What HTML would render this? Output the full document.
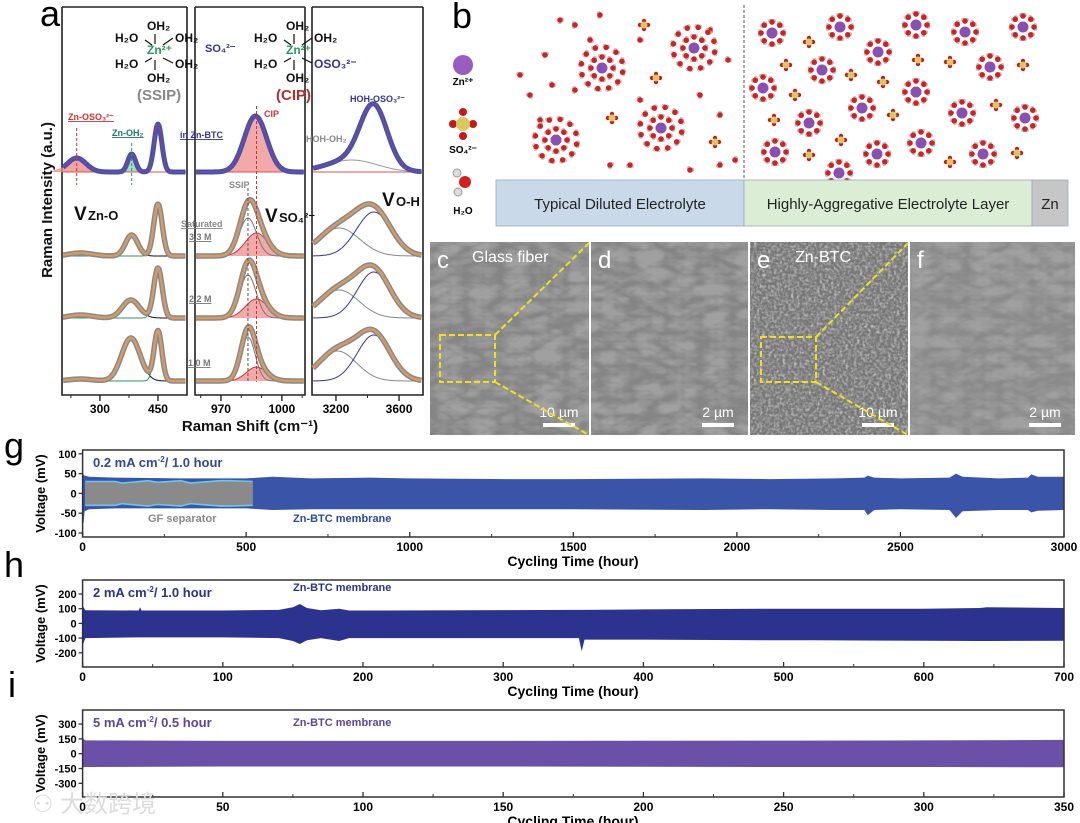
<!DOCTYPE html>
<html><head><meta charset="utf-8">
<style>
html,body{margin:0;padding:0;background:#fff;}
svg{display:block;font-family:"Liberation Sans","Noto Sans CJK SC",sans-serif;}
.b{font-weight:bold;}
</style></head>
<body>
<svg id="fig" width="1080" height="823" viewBox="0 0 1080 823" xmlns="http://www.w3.org/2000/svg">
<defs>
<filter id="semB" x="0" y="0" width="100%" height="100%"><feTurbulence type="turbulence" baseFrequency="0.03 0.06" numOctaves="3" seed="7"/><feColorMatrix type="matrix" values="0 0 0 0 0.35  0 0 0 0 0.35  0 0 0 0 0.35  1.2 1.2 1.2 0 -0.6"/></filter>
<filter id="semC" x="0" y="0" width="100%" height="100%"><feTurbulence type="fractalNoise" baseFrequency="0.35" numOctaves="2" seed="5"/><feColorMatrix type="matrix" values="0 0 0 0 0.8  0 0 0 0 0.8  0 0 0 0 0.8  0.8 0.8 0.8 0 -1.05"/></filter>
</defs>

<text x="40" y="26" font-size="36">a</text>
<text x="452" y="28" font-size="36">b</text>
<text x="4" y="458" font-size="36">g</text>
<text x="4" y="577" font-size="36">h</text>
<text x="8" y="697" font-size="36">i</text>

<g id="panelA"></g>
<g id="panelB"></g>
<g id="panelSEM"></g>
<g id="cycG"></g>
<g id="cycH"></g>
<g id="cycI"></g>

<text x="32" y="812" font-size="24" fill="#dcdcdc">⚇ 大数跨境</text>
</svg>
<script>
// ===== Raman data (peak: center cm-1, height, sigma) =====
const znoTop = [[240,14,24],[382,18,10],[450,48,10]];
const znoRows = [
  [[250,3,30],[382,21,16],[450,52,11]],
  [[250,3,30],[380,18,22],[450,50,11]],
  [[250,2,30],[380,43,24],[450,50,10]]
];
const so4Top = [[987,56,5.5]];
const so4Rows = [
  [[983.3,38,4.2],[987.5,23,5.5]],
  [[983.3,43,4.0],[987.5,19,5.5]],
  [[983.3,44,3.5],[987.5,14,5.0]]
];
const ohTop = [[3300,12,160],[3440,60,85]];
const ohRows = [
  [[3220,28,130],[3440,44,110]],
  [[3220,28,125],[3440,46,105]],
  [[3210,30,120],[3440,46,105]]
];
const rowBase = [256,318,381];
const ramanConc = ["3.3 M","2.2 M","1.0 M"];

// ===== Cycling data =====
const gTimes = [0,3,6,20,100,300,500,580,700,880,1000,1300,1500,1900,2100,2300,2390,2400,2420,2500,2650,2670,2690,2800,2890,2900,2920,3000];
const gUpper = [48,47,45,42,40,38,38,42,38,40,38,36,36,38,36,38,40,45,40,38,40,50,42,38,40,48,42,42];
const gLower = [-75,-75,-45,-40,-38,-38,-38,-42,-40,-40,-40,-40,-40,-42,-40,-42,-42,-55,-42,-40,-42,-62,-45,-42,-42,-48,-44,-42];
const gfTimes = [8,100,120,200,230,300,330,420,450,520];
const gfUpper = [28,28,24,30,26,30,24,30,30,28];
const gfLower = [-28,-28,-24,-30,-26,-30,-24,-30,-30,-28];
const gXTicks = [0,500,1000,1500,2000,2500,3000];
const gYTicks = [100,50,0,-50,-100];

const hTimes = [0,2,40,41,42,100,140,150,155,160,170,183,190,200,350,354,356,358,400,490,520,600,640,645,700];
const hUpper = [120,90,88,110,88,88,92,110,132,105,90,100,88,88,92,92,92,92,95,100,100,100,105,110,105];
const hLower = [-150,-100,-95,-95,-95,-95,-100,-120,-140,-115,-100,-120,-100,-100,-100,-100,-190,-110,-110,-115,-115,-118,-120,-120,-118];
const hXTicks = [0,100,200,300,400,500,600,700];
const hYTicks = [200,100,0,-100,-200];

const iTimes = [0,1,50,100,150,200,250,300,350];
const iUpper = [160,135,130,130,130,132,133,135,140];
const iLower = [-140,-135,-130,-130,-130,-132,-135,-135,-138];
const iXTicks = [0,50,100,150,200,250,300,350];
const iYTicks = [300,150,0,-150,-300];

const NS = "http://www.w3.org/2000/svg";
function mk(parent, tag, attrs, text){
  const e = document.createElementNS(NS, tag);
  for (const k in attrs) e.setAttribute(k, attrs[k]);
  if (text !== undefined) e.textContent = text;
  parent.appendChild(e);
  return e;
}
function gauss(x, p){ return p[1]*Math.exp(-0.5*Math.pow((x-p[0])/p[2],2)); }

// ===== Panel A =====
(function(){
  const g = document.getElementById('panelA');
  const subs = [
    {x0:62,x1:187,d0:202,d1:525,top:znoTop,rows:znoRows,ticks:[300,450],minor:[225,375,525]},
    {x0:195,x1:305,d0:957.2,d1:1011.4,top:so4Top,rows:so4Rows,ticks:[970,1000],minor:[960,980,990,1010]},
    {x0:312,x1:423,d0:3048,d1:3752,top:ohTop,rows:ohRows,ticks:[3200,3600],minor:[3000,3400,3800]}
  ];
  subs.forEach((s,si)=>{
    const xs = d => s.x0 + (d-s.d0)/(s.d1-s.d0)*(s.x1-s.x0);
    let f = mk(g,'path',{d:`M${s.x0},7 V395 H${s.x1} V7 M${s.x0},7 H${s.x1}`,fill:'none',stroke:'#222','stroke-width':1.6});
    
    
    s.ticks.forEach(t=>{
      mk(g,'line',{x1:xs(t),x2:xs(t),y1:395,y2:401,stroke:'#222','stroke-width':1.4});
      const tl = mk(g,'text',{x:xs(t),y:413,'font-size':12,'text-anchor':'middle','class':'b'},String(t));
      
      
    });
    s.minor.forEach(t=>{ if(t>s.d0&&t<s.d1) mk(g,'line',{x1:xs(t),x2:xs(t),y1:395,y2:398,stroke:'#222','stroke-width':1}); });
    const curve = (peaks, base, idx) => {
      let d=''; for(let px=s.x0+1; px<=s.x1-1; px+=0.7){
        const x = s.d0 + (px-s.x0)/(s.x1-s.x0)*(s.d1-s.d0);
        let y = 0; (idx===undefined?peaks:[peaks[idx]]).forEach(p=>y+=gauss(x,p));
        d += (d?'L':'M')+px.toFixed(1)+','+(base-y).toFixed(1);
      } return d;
    };
    const tb = 172;
    if (si===0){
      [[0,'#f08a8a'],[1,'#8fd6a6']].forEach(([k,c])=>mk(g,'path',{d:curve(s.top,tb,k)+`V${tb}H${xs(s.top[k][0]-70)}Z`,fill:c,opacity:0.8}));
    } else if (si===1){
      mk(g,'path',{d:curve(s.top,tb,0)+`L${s.x1-1},${tb}L${s.x0+1},${tb}Z`,fill:'#f29a9a',opacity:0.85});
    } else {
      mk(g,'path',{d:curve(s.top,tb,0),fill:'none',stroke:'#999','stroke-width':1});
    }
    mk(g,'line',{x1:s.x0+1,x2:s.x1-1,y1:tb,y2:tb,stroke:'#e05050','stroke-width':1});
    let tp = mk(g,'path',{d:curve(s.top,tb),fill:'none',stroke:'#3d55b0','stroke-width':5,'stroke-linejoin':'round'});
    
    
    mk(g,'path',{d:curve(s.top,tb),fill:'none',stroke:'#9a3c8c','stroke-width':1.2});
    s.rows.forEach((peaks,ri)=>{
      const base = rowBase[ri];
      if (si===1) mk(g,'path',{d:curve(peaks,base,1)+`L${s.x1-1},${base}L${s.x0+1},${base}Z`,fill:'#f29a9a',opacity:0.85});
      peaks.forEach((p,k)=>{ if(si===0&&k===0) return;
        mk(g,'path',{d:curve(peaks,base,k),fill:'none',stroke: si===0?(k===1?'#111':'#2a9a5a'):(si===1?(k===0?'#777':'#c33'):(k===0?'#888':'#33339a')),'stroke-width':1});
      });
      let sp = mk(g,'path',{d:curve(peaks,base),fill:'none',stroke:'#8a8a8a','stroke-width':5.5,'stroke-linejoin':'round'});
      
      
      mk(g,'path',{d:curve(peaks,base),fill:'none',stroke:'#d69a62','stroke-width':2.4});
    });
    if (si===1){
      mk(g,'line',{x1:xs(983.3),x2:xs(983.3),y1:188,y2:382,stroke:'#555','stroke-width':1,'stroke-dasharray':'3,2'});
      mk(g,'line',{x1:xs(987.5),x2:xs(987.5),y1:106,y2:382,stroke:'#c33','stroke-width':1,'stroke-dasharray':'3,2'});
    }
    if (si===0){
      mk(g,'line',{x1:xs(240),x2:xs(240),y1:128,y2:185,stroke:'#c33','stroke-width':1,'stroke-dasharray':'3,2'});
      mk(g,'line',{x1:xs(382),x2:xs(382),y1:143,y2:185,stroke:'#2a9a5a','stroke-width':1,'stroke-dasharray':'3,2'});
    }
  });
  const T=(x,y,s,c,t,n,extra)=>{const e=mk(g,'text',Object.assign({x:x,y:y,'font-size':s,fill:c,'class':'b'},extra||{}),t);   return e;};
  [[155,'SSIP',false],[294,'CIP',true]].forEach(([cx,lab,cip])=>{
    T(cx-8,30,12,'#111','OH₂','water-ligand');
    T(cx-40,42,12,'#111','H₂O','water-ligand');
    T(cx+20,42,12,'#111','OH₂','water-ligand');
    T(cx-8,54,12,'#2a9a5a','Zn²⁺','zn-ion');
    T(cx-40,68,12,'#111','H₂O','water-ligand');
    T(cx+20,68,12,cip?'#33339a':'#111',cip?'OSO₃²⁻':'OH₂','ligand');
    T(cx-8,82,12,'#111','OH₂','water-ligand');
    mk(g,'path',{d:`M${cx},34 V44 M${cx},60 V70 M${cx-10},40 L${cx-3},45 M${cx+8},45 L${cx+18},38 M${cx-10},62 L${cx-3},58 M${cx+8},58 L${cx+18},63`,stroke:'#111','stroke-width':1.2,fill:'none'});
    T(cx-18,100,15,cip?'#b03030':'#888','('+lab+')','structure-label-'+lab.toLowerCase());
  });
  T(205,52,11,'#33339a','SO₄²⁻','sulfate-label');
  T(68,120,9,'#c33','Zn-OSO₃²⁻','peak-label-zn-oso3',{'text-decoration':'underline'});
  T(112,136,9,'#1a7a6a','Zn-OH₂','peak-label-zn-oh2',{'text-decoration':'underline'});
  T(180,138,9,'#33339a','in Zn-BTC','label-in-zn-btc',{'text-decoration':'underline'});
  T(264,117,9,'#c33','CIP','peak-label-cip');
  T(350,102,9,'#33339a','HOH-OSO₃²⁻','peak-label-hoh-oso3');
  T(306,142,9,'#888','HOH-OH₂','peak-label-hoh-oh2');
  T(229,188,9,'#888','SSIP','peak-label-ssip');
  T(181,227,9,'#888','Saturated','conc-label-saturated',{'text-decoration':'underline'});
  [[189,240],[189,302],[188,366]].forEach((p,i)=>T(p[0],p[1],9,'#777',ramanConc[i],'conc-label',{'text-decoration':'underline'}));
  T(74,220,19,'#111','V','mode-label-zn-o'); T(88,220,13,'#111','Zn-O','mode-sub');
  T(265,222,19,'#111','V','mode-label-so4'); T(279,222,13,'#111','SO₄²⁻','mode-sub');
  T(382,206,19,'#111','V','mode-label-oh'); T(396,206,13,'#111','O-H','mode-sub');
  T(0,0,15,'#111','Raman Intensity (a.u.)','raman-y-axis-title',{transform:'translate(52,200) rotate(-90)','text-anchor':'middle'});
  T(250,431,15,'#111','Raman Shift (cm⁻¹)','raman-x-axis-title',{'text-anchor':'middle'});
})();

// ===== Panel B =====
(function(){
  const g = document.getElementById('panelB');
  function water(x,y,a){
    mk(g,'circle',{cx:x+2.2*Math.cos(a+1),cy:y+2.2*Math.sin(a+1),r:1.8,fill:'#ddd',stroke:'#999','stroke-width':0.4});
    mk(g,'circle',{cx:x+2.2*Math.cos(a-1),cy:y+2.2*Math.sin(a-1),r:1.8,fill:'#ddd',stroke:'#999','stroke-width':0.4});
    mk(g,'circle',{cx:x,cy:y,r:2.8,fill:'#d42020'});
  }
  function sulf(x,y){
    [[0,-4],[4,0],[0,4],[-4,0]].forEach(o=>mk(g,'circle',{cx:x+o[0],cy:y+o[1],r:2.2,fill:'#c81818'}));
    mk(g,'circle',{cx:x,cy:y,r:3.5,fill:'#d8c860'});
  }
  function zn(x,y,two){
    for(let k=0;k<8;k++){const a=k*Math.PI/4; water(x+11*Math.cos(a),y+11*Math.sin(a),a);}
    if(two) for(let k=0;k<12;k++){const a=k*Math.PI/6+0.2; water(x+21*Math.cos(a),y+21*Math.sin(a),a);}
    const c=mk(g,'circle',{cx:x,cy:y,r:5.5,fill:'#8a4fb0'});
    
    
  }
  const zL=[[694,48],[602,68],[661,128],[556,140]];
  const zR=[[772,33],[840,27],[916,25],[965,32],[1023,27],[878,52],[822,70],[990,67],[763,88],[916,92],[862,108],[809,123],[962,113],[1025,118],[775,152],[877,154],[921,143],[983,154],[839,173]];
  const sL=[[644,25],[656,78],[612,118],[715,142]];
  const sR=[[809,42],[786,65],[851,75],[883,82],[918,60],[950,62],[1023,65],[795,95],[996,105],[774,120],[893,115],[841,140],[809,155],[950,162],[1017,153]];
  const wF=[[560,20],[575,25],[600,15],[640,40],[545,55],[552,85],[530,95],[575,90],[540,120],[640,100],[700,95],[720,115],[710,30],[728,60],[610,165],[630,165],[720,165],[735,160],[590,40],[690,170],[520,75]];
  wF.forEach(p=>water(p[0],p[1],p[0]));
  zL.forEach(p=>zn(p[0],p[1],true));
  zR.forEach(p=>zn(p[0],p[1],false));
  sL.concat(sR).forEach(p=>sulf(p[0],p[1]));
  mk(g,'line',{x1:744,x2:744,y1:5,y2:188,stroke:'#555','stroke-width':1,'stroke-dasharray':'3,2'});
  const bars=[[496,744,'#c9d9ea','Typical Diluted Electrolyte','bar-diluted-electrolyte'],[744,1032,'#dcedd6','Highly-Aggregative Electrolyte Layer','bar-aggregative-layer'],[1032,1068,'#c6c6c6','Zn','bar-zn']];
  bars.forEach(b=>{
    const r=mk(g,'rect',{x:b[0],y:180,width:b[1]-b[0],height:46,fill:b[2],stroke:'#9ab','stroke-width':0.8});
     
    const t=mk(g,'text',{x:(b[0]+b[1])/2,y:209,'font-size':15,'text-anchor':'middle',fill:'#222'},b[3]);
     
  });
  mk(g,'circle',{cx:463,cy:65,r:10,fill:'#9a5cc0'});
  mk(g,'text',{x:463,y:85,'font-size':10,'text-anchor':'middle','class':'b'},'Zn²⁺');
  mk(g,'circle',{cx:453,cy:124,r:4,fill:'#c81818'});mk(g,'circle',{cx:473,cy:124,r:4,fill:'#c81818'});
  mk(g,'circle',{cx:463,cy:112,r:4,fill:'#c81818'});mk(g,'circle',{cx:463,cy:136,r:4,fill:'#c81818'});
  mk(g,'circle',{cx:463,cy:124,r:7,fill:'#d8c860'});
  mk(g,'text',{x:463,y:153,'font-size':10,'text-anchor':'middle','class':'b'},'SO₄²⁻');
  mk(g,'circle',{cx:457,cy:173,r:4,fill:'#ddd',stroke:'#999'});mk(g,'circle',{cx:458,cy:192,r:4,fill:'#ddd',stroke:'#999'});
  mk(g,'circle',{cx:465,cy:182,r:6,fill:'#d42020'});
  mk(g,'text',{x:463,y:214,'font-size':10,'text-anchor':'middle','class':'b'},'H₂O');
})();

// ===== SEM panels =====
(function(){
  const g=document.getElementById('panelSEM');
  const P=[[430,589,'semB','c','Glass fiber','10 µm','#858585'],[591,748,'semB','d','','2 µm','#858585'],[750,908,'semC','e','Zn-BTC','10 µm','#767676'],[910,1075,'semB','f','','2 µm','#8a8a8a']];
  P.forEach(p=>{
    const w=p[1]-p[0];
    const r=mk(g,'rect',{x:p[0],y:242,width:w,height:193,fill:p[6]});
     
    mk(g,'rect',{x:p[0],y:242,width:w,height:193,filter:'url(#'+p[2]+')'});
    mk(g,'text',{x:p[0]+7,y:268,'font-size':24,fill:'#fff'},p[3]);
    if(p[4]) mk(g,'text',{x:p[0]+(p[3]==='c'?42:45),y:262,'font-size':16,fill:'#fff'},p[4]);
    mk(g,'text',{x:p[1]-30,y:417,'font-size':14,fill:'#fff','text-anchor':'middle'},p[5]);
    mk(g,'rect',{x:p[1]-46,y:423,width:32,height:4,fill:'#fff'});
  });
  [[440,335,495,382,589],[761,337,816,382,908]].forEach(b=>{
    mk(g,'rect',{x:b[0],y:b[1],width:b[2]-b[0],height:b[3]-b[1],fill:'none',stroke:'#f0e020','stroke-width':2,'stroke-dasharray':'6,3'});
    mk(g,'line',{x1:b[2],y1:b[1],x2:b[4],y2:243,stroke:'#f0e020','stroke-width':2,'stroke-dasharray':'6,3'});
    mk(g,'line',{x1:b[2],y1:b[3],x2:b[4],y2:435,stroke:'#f0e020','stroke-width':2,'stroke-dasharray':'6,3'});
  });
})();

// ===== Cycling plots =====
function cycPlot(id,cfg){
  const g=document.getElementById(id);
  const x0=82.6,x1=1064;
  const xs=t=>x0+(t-cfg.xmin)/(cfg.xmax-cfg.xmin)*(x1-x0);
  const ys=v=>cfg.y0-v*cfg.k;
  const band=(T,U,L,fill,name)=>{
    let d='M'+T.map((t,i)=>xs(t).toFixed(1)+','+ys(U[i]).toFixed(1)).join('L');
    for(let i=T.length-1;i>=0;i--) d+='L'+xs(T[i]).toFixed(1)+','+ys(L[i]).toFixed(1);
    const p=mk(g,'path',{d:d+'Z',fill:fill});
     
  };
  band(cfg.T,cfg.U,cfg.L,cfg.color,id+'-voltage-band');
  if(cfg.gfT){
    band(cfg.gfT,cfg.gfU.map(v=>v+4),cfg.gfL.map(v=>v-4),'#6cc7ec','gf-band-outline');
    band(cfg.gfT,cfg.gfU,cfg.gfL,'#8a8a8a','gf-separator-band');
  }
  const fr=mk(g,'rect',{x:x0,y:cfg.top,width:x1-x0,height:cfg.bot-cfg.top,fill:'none',stroke:'#333','stroke-width':1.5});
   
  cfg.xt.forEach((t,i)=>{
    mk(g,'line',{x1:xs(t),x2:xs(t),y1:cfg.bot,y2:cfg.bot-5,stroke:'#333','stroke-width':1.3});
    if(i<cfg.xt.length-1){const m=(t+cfg.xt[i+1])/2; mk(g,'line',{x1:xs(m),x2:xs(m),y1:cfg.bot,y2:cfg.bot-3,stroke:'#333','stroke-width':1});}
    const tl=mk(g,'text',{x:xs(t),y:cfg.bot+14,'font-size':12,'text-anchor':'middle','class':'b'},String(t));
     
  });
  cfg.yt.forEach(v=>{
    mk(g,'line',{x1:x0-4,x2:x0,y1:ys(v),y2:ys(v),stroke:'#333','stroke-width':1.3});
    const tl=mk(g,'text',{x:x0-6,y:ys(v)+4,'font-size':11,'text-anchor':'end','class':'b'},String(v));
     
  });
  const xt=mk(g,'text',{x:573,y:cfg.bot+29,'font-size':14,'text-anchor':'middle','class':'b'},'Cycling Time (hour)');
   
  const yt=mk(g,'text',{x:0,y:0,'font-size':13,'text-anchor':'middle','class':'b',transform:`translate(45,${(cfg.top+cfg.bot)/2}) rotate(-90)`},'Voltage (mV)');
   
  const lab=mk(g,'text',{x:93,y:cfg.top+17,'font-size':13,'class':'b',fill:cfg.labColor});
  lab.innerHTML=cfg.lab;
   
  const mem=mk(g,'text',{x:293,y:cfg.memY,'font-size':11,'class':'b',fill:cfg.labColor},'Zn-BTC membrane');
   
  if(cfg.gfT){const gf=mk(g,'text',{x:148,y:cfg.memY,'font-size':11,'class':'b',fill:'#888'},'GF separator');
     }
}
cycPlot('cycG',{xmin:0,xmax:3000,top:450,bot:537,y0:493.4,k:0.396,T:gTimes,U:gUpper,L:gLower,color:'#3a55a8',gfT:gfTimes,gfU:gfUpper,gfL:gfLower,xt:gXTicks,yt:gYTicks,lab:'0.2 mA cm<tspan font-size="8" dy="-5">-2</tspan><tspan dy="5">/ 1.0 hour</tspan>',labColor:'#2f4a9a',memY:522});
cycPlot('cycH',{xmin:0,xmax:700,top:580,bot:667,y0:623.4,k:0.147,T:hTimes,U:hUpper,L:hLower,color:'#2b338f',xt:hXTicks,yt:hYTicks,lab:'2 mA cm<tspan font-size="8" dy="-5">-2</tspan><tspan dy="5">/ 1.0 hour</tspan>',labColor:'#2b338f',memY:591});
cycPlot('cycI',{xmin:0,xmax:350,top:710,bot:797,y0:753.7,k:0.0988,T:iTimes,U:iUpper,L:iLower,color:'#6a50a6',xt:iXTicks,yt:iYTicks,lab:'5 mA cm<tspan font-size="8" dy="-5">-2</tspan><tspan dy="5">/ 0.5 hour</tspan>',labColor:'#5a45a0',memY:726});
</script>
</body></html>
